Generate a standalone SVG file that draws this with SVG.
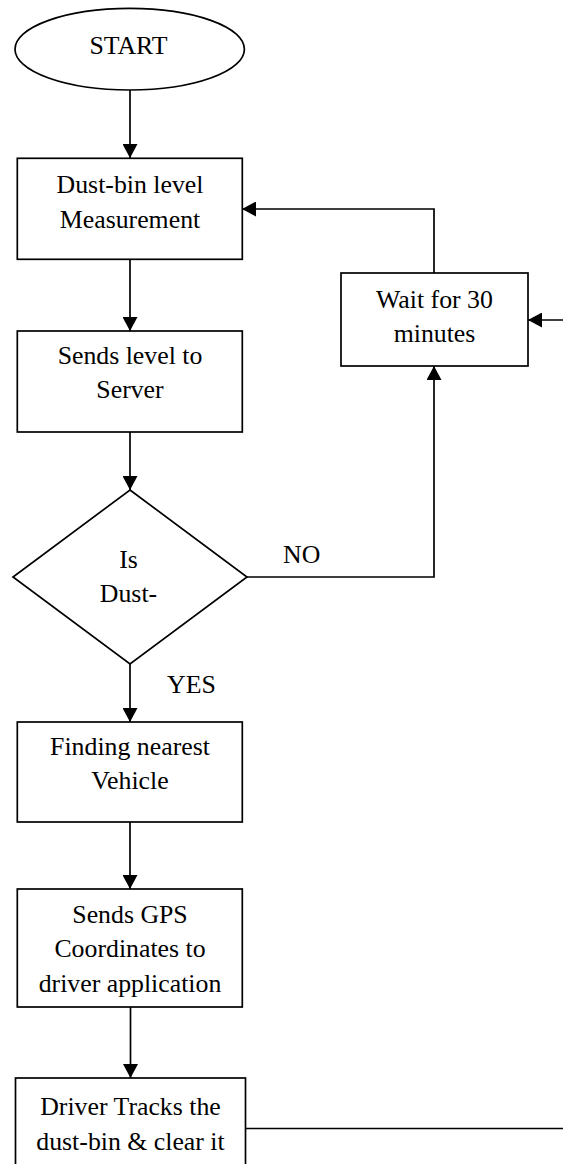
<svg xmlns="http://www.w3.org/2000/svg" width="563" height="1164" viewBox="0 0 563 1164">
<style>
.shape{fill:#fff;stroke:#000;stroke-width:1.7}
.conn{fill:none;stroke:#000;stroke-width:1.7}
.c{text-anchor:middle}
</style>
<defs>
<marker id="ah" viewBox="0 0 14 15" refX="14" refY="7.5" markerWidth="14" markerHeight="15" markerUnits="userSpaceOnUse" orient="auto">
<path d="M0,0 L14,7.5 L0,15 Z" fill="#000"/>
</marker>
</defs>
<rect width="563" height="1164" fill="#fff"/>
<g font-family="Liberation Serif, Tinos, Times New Roman, DejaVu Serif, serif" font-size="25.8" fill="#000">
<g id="connectors">
<line class="conn" x1="130" y1="90" x2="130" y2="158" marker-end="url(#ah)"/>
<line class="conn" x1="130" y1="259" x2="130" y2="331" marker-end="url(#ah)"/>
<line class="conn" x1="130" y1="432" x2="130" y2="490" marker-end="url(#ah)"/>
<polyline class="conn" points="247,577 434,577 434,366" marker-end="url(#ah)"/>
<polyline class="conn" points="434,273 434,209 242,209" marker-end="url(#ah)"/>
<line class="conn" x1="563" y1="320" x2="528" y2="320" marker-end="url(#ah)"/>
<line class="conn" x1="130" y1="664" x2="130" y2="722" marker-end="url(#ah)"/>
<line class="conn" x1="130" y1="822" x2="130" y2="889" marker-end="url(#ah)"/>
<line class="conn" x1="130.5" y1="1007" x2="130.5" y2="1078" marker-end="url(#ah)"/>
<line class="conn" x1="245.5" y1="1128.5" x2="563" y2="1128.5"/>
<text x="283" y="563">NO</text>
<text x="167" y="693">YES</text>
</g>
<g id="start">
<ellipse class="shape" cx="129.7" cy="49.2" rx="114.7" ry="40.8"/>
<text class="c" x="128.5" y="54">START</text>
</g>
<g id="measure">
<rect class="shape" x="17.3" y="158.3" width="225" height="101"/>
<text class="c" x="130" y="193">Dust-bin level</text>
<text class="c" x="130" y="228">Measurement</text>
</g>
<g id="wait">
<rect class="shape" x="341" y="273" width="187" height="93"/>
<text class="c" x="434.5" y="308">Wait for 30</text>
<text class="c" x="434.5" y="342">minutes</text>
</g>
<g id="sends-level">
<rect class="shape" x="17.3" y="331" width="225" height="101"/>
<text class="c" x="130" y="364">Sends level to</text>
<text class="c" x="130" y="398">Server</text>
</g>
<g id="decision">
<polygon class="shape" points="130,490 247,577 130,664 13,577"/>
<text class="c" x="128.5" y="568">Is</text>
<text class="c" x="128.5" y="602">Dust-</text>
</g>
<g id="finding">
<rect class="shape" x="17.3" y="722" width="225" height="100"/>
<text class="c" x="130" y="755">Finding nearest</text>
<text class="c" x="130" y="789">Vehicle</text>
</g>
<g id="sends-gps">
<rect class="shape" x="17.3" y="889" width="225" height="118"/>
<text class="c" x="130" y="922.5">Sends GPS</text>
<text class="c" x="130" y="957">Coordinates to</text>
<text class="c" x="130" y="991.5">driver application</text>
</g>
<g id="driver">
<rect class="shape" x="15.5" y="1078" width="230" height="100"/>
<text class="c" x="130.5" y="1115">Driver Tracks the</text>
<text class="c" x="130.5" y="1150">dust-bin &amp; clear it</text>
</g>
</g>
</svg>
